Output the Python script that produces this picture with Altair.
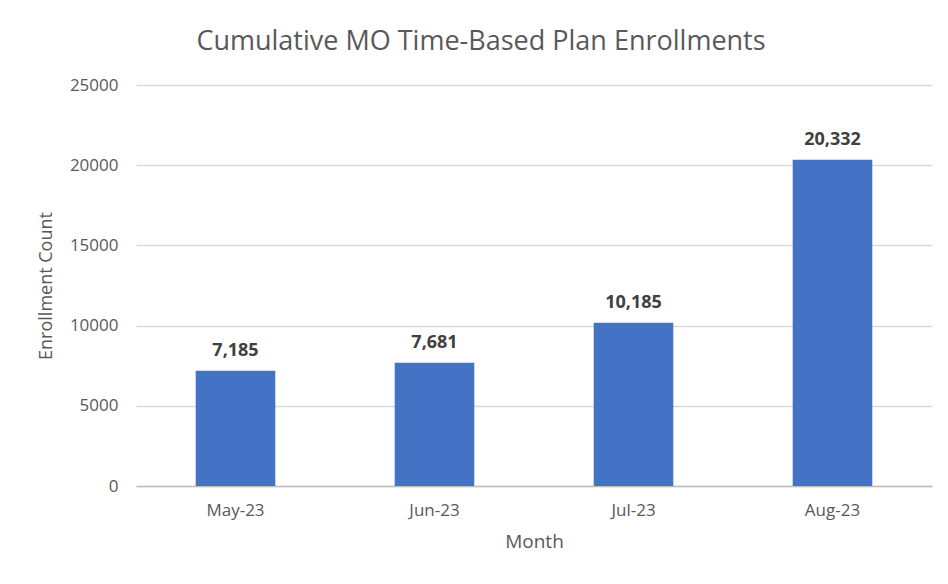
import altair as alt
import pandas as pd

months = ["May-23", "Jun-23", "Jul-23", "Aug-23"]
enrollments = [7185, 7681, 10185, 20332]
labels = ["7,185", "7,681", "10,185", "20,332"]

df = pd.DataFrame({"Month": months, "Enrollment": enrollments, "Label": labels})

FONT = "Open Sans"
GRAY = "#595959"

base = alt.Chart(df)

x = alt.X("Month:N", sort=months, title="Month",
          scale=alt.Scale(paddingInner=0.6, paddingOuter=0.3),
          axis=alt.Axis(labelAngle=0, ticks=False, domainColor="#BFBFBF", domainWidth=1.5,
                        labelFont=FONT, labelFontSize=17, labelColor=GRAY, labelPadding=16,
                        titleFont=FONT, titleFontSize=19, titleFontWeight="normal",
                        titleColor=GRAY, titlePadding=14))
y = alt.Y("Enrollment:Q", title="Enrollment Count",
          scale=alt.Scale(domain=[0, 25000], nice=False),
          axis=alt.Axis(values=[0, 5000, 10000, 15000, 20000, 25000], format="d",
                        ticks=False, domain=False, gridColor="#D9D9D9", gridWidth=1.3,
                        labelFont=FONT, labelFontSize=17, labelColor=GRAY, labelPadding=18,
                        titleFont=FONT, titleFontSize=18, titleFontWeight="normal",
                        titleColor=GRAY, titlePadding=14))

bars = base.mark_bar(color="#4472C4").encode(x=x, y=y)
text = base.mark_text(baseline="bottom", dy=-11, font=FONT, fontSize=18,
                      fontWeight="bold", color="#404040").encode(
    x=alt.X("Month:N", sort=months), y="Enrollment:Q", text="Label:N")

chart = alt.layer(bars, text).properties(
    width=796, height=401,
    autosize=alt.AutoSizeParams(type="none"),
    padding={"left": 128, "top": 77, "right": 8, "bottom": 90},
    title=alt.TitleParams("Cumulative MO Time-Based Plan Enrollments", font=FONT,
                          fontSize=27, fontWeight="normal", color=GRAY,
                          anchor="middle", offset=20, dx=-53),
).configure_view(stroke=None)

chart.save("out.html", embed_options={"renderer": "svg", "actions": False})
